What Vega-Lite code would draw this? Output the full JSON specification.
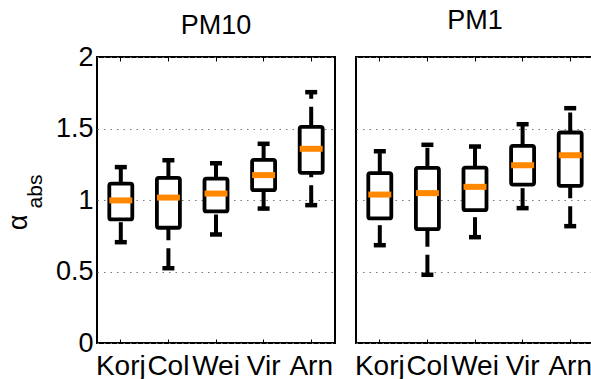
{
  "$schema": "https://vega.github.io/schema/vega-lite/v6.json",
  "padding": {"left": 3, "top": 6, "right": 0, "bottom": 0},
  "background": "white",
  "datasets": {
    "stats": [
      {"panel": "PM10", "site": "Korj", "lo": 0.705, "q1": 0.864, "med": 0.997, "q3": 1.115, "hi": 1.23},
      {"panel": "PM10", "site": "Col", "lo": 0.523, "q1": 0.806, "med": 1.017, "q3": 1.155, "hi": 1.278},
      {"panel": "PM10", "site": "Wei", "lo": 0.759, "q1": 0.92, "med": 1.045, "q3": 1.15, "hi": 1.257},
      {"panel": "PM10", "site": "Vir", "lo": 0.94, "q1": 1.069, "med": 1.174, "q3": 1.281, "hi": 1.393},
      {"panel": "PM10", "site": "Arn", "lo": 0.964, "q1": 1.19, "med": 1.358, "q3": 1.512, "hi": 1.754},
      {"panel": "PM1", "site": "Korj", "lo": 0.684, "q1": 0.871, "med": 1.038, "q3": 1.188, "hi": 1.341},
      {"panel": "PM1", "site": "Col", "lo": 0.477, "q1": 0.796, "med": 1.048, "q3": 1.225, "hi": 1.386},
      {"panel": "PM1", "site": "Wei", "lo": 0.74, "q1": 0.929, "med": 1.092, "q3": 1.227, "hi": 1.374},
      {"panel": "PM1", "site": "Vir", "lo": 0.943, "q1": 1.108, "med": 1.243, "q3": 1.379, "hi": 1.53},
      {"panel": "PM1", "site": "Arn", "lo": 0.817, "q1": 1.099, "med": 1.313, "q3": 1.472, "hi": 1.642}
    ]
  },
  "spacing": 17,
  "hconcat": [
    {
      "title": {"text": "PM10", "offset": 3.5},
      "width": 238,
      "height": 286,
      "data": {"name": "stats"},
      "transform": [{"filter": "datum.panel === 'PM10'"}],
      "resolve": {"axis": {"x": "independent", "y": "independent"}},
      "layer": [
        {
          "mark": {"type": "rule", "strokeWidth": 4, "strokeDash": [20, 8], "color": "black"},
          "encoding": {
            "x": {"field": "site", "type": "nominal", "sort": ["Korj", "Col", "Wei", "Vir", "Arn"], "scale": {"paddingInner": 0, "paddingOuter": 0},
                  "axis": {"orient": "bottom", "title": null, "domain": false, "tickSize": -4, "labelPadding": 13, "labelFontSize": 28, "labelAngle": 0, "labelOverlap": false, "labelBound": false}},
            "y": {"field": "lo", "type": "quantitative", "scale": {"domain": [0, 2], "nice": false, "zero": false},
                  "axis": {"orient": "left", "values": [0, 0.5, 1, 1.5, 2], "format": "~g", "domain": false, "ticks": false, "labelPadding": 4,
                           "grid": true, "gridColor": "#7a7a7a", "gridDash": [1.5, 5], "gridWidth": 1.2,
                           "title": "α", "titleFontSize": 27, "titleAngle": -90, "titleAlign": "center", "titleBaseline": "alphabetic", "titleX": -71, "titleY": 165}},
            "y2": {"field": "q1"}
          }
        },
        {
          "mark": {"type": "rule", "strokeWidth": 4, "strokeDash": [20, 8], "color": "black"},
          "encoding": {
            "x": {"field": "site", "type": "nominal", "sort": ["Korj", "Col", "Wei", "Vir", "Arn"],
                  "axis": {"orient": "top", "title": null, "domain": false, "labels": false, "tickSize": -4}},
            "y": {"field": "q3", "type": "quantitative",
                  "axis": {"orient": "left", "labels": false, "ticks": false, "domain": false, "grid": false,
                           "title": "abs", "titleFontSize": 21, "titleAngle": -90, "titleAlign": "center", "titleBaseline": "alphabetic", "titleX": -56, "titleY": 134}},
            "y2": {"field": "hi"}
          }
        },
        {
          "mark": {"type": "tick", "orient": "horizontal", "size": 12, "thickness": 4.5, "color": "black", "opacity": 1},
          "encoding": {
            "x": {"field": "site", "type": "nominal", "sort": ["Korj", "Col", "Wei", "Vir", "Arn"], "axis": null},
            "y": {"field": "lo", "type": "quantitative", "axis": null}
          }
        },
        {
          "mark": {"type": "tick", "orient": "horizontal", "size": 12, "thickness": 4.5, "color": "black", "opacity": 1},
          "encoding": {
            "x": {"field": "site", "type": "nominal", "sort": ["Korj", "Col", "Wei", "Vir", "Arn"], "axis": null},
            "y": {"field": "hi", "type": "quantitative", "axis": null}
          }
        },
        {
          "mark": {"type": "bar", "size": 23, "fill": "white", "stroke": "black", "strokeWidth": 3.8, "cornerRadius": 2},
          "encoding": {
            "x": {"field": "site", "type": "nominal", "sort": ["Korj", "Col", "Wei", "Vir", "Arn"], "axis": null},
            "y": {"field": "q1", "type": "quantitative", "axis": null},
            "y2": {"field": "q3"}
          }
        },
        {
          "mark": {"type": "tick", "orient": "horizontal", "size": 23, "thickness": 6, "color": "#ff8800", "opacity": 1},
          "encoding": {
            "x": {"field": "site", "type": "nominal", "sort": ["Korj", "Col", "Wei", "Vir", "Arn"], "axis": null},
            "y": {"field": "med", "type": "quantitative", "axis": null}
          }
        }
      ]
    },
    {
      "title": {"text": "PM1", "offset": 21.5},
      "width": 238,
      "height": 286,
      "data": {"name": "stats"},
      "transform": [{"filter": "datum.panel === 'PM1'"}],
      "resolve": {"axis": {"x": "independent", "y": "independent"}},
      "layer": [
        {
          "mark": {"type": "rule", "strokeWidth": 4, "strokeDash": [20, 8], "color": "black"},
          "encoding": {
            "x": {"field": "site", "type": "nominal", "sort": ["Korj", "Col", "Wei", "Vir", "Arn"], "scale": {"paddingInner": 0, "paddingOuter": 0},
                  "axis": {"orient": "bottom", "title": null, "domain": false, "tickSize": -4, "labelPadding": 13, "labelFontSize": 28, "labelAngle": 0, "labelOverlap": false, "labelBound": false}},
            "y": {"field": "lo", "type": "quantitative", "scale": {"domain": [0, 2], "nice": false, "zero": false},
                  "axis": {"orient": "left", "values": [0, 0.5, 1, 1.5, 2], "labels": false, "domain": false, "ticks": false,
                           "grid": true, "gridColor": "#7a7a7a", "gridDash": [1.5, 5], "gridWidth": 1.2, "title": null}},
            "y2": {"field": "q1"}
          }
        },
        {
          "mark": {"type": "rule", "strokeWidth": 4, "strokeDash": [20, 8], "color": "black"},
          "encoding": {
            "x": {"field": "site", "type": "nominal", "sort": ["Korj", "Col", "Wei", "Vir", "Arn"],
                  "axis": {"orient": "top", "title": null, "domain": false, "labels": false, "tickSize": -4}},
            "y": {"field": "q3", "type": "quantitative", "axis": null},
            "y2": {"field": "hi"}
          }
        },
        {
          "mark": {"type": "tick", "orient": "horizontal", "size": 12, "thickness": 4.5, "color": "black", "opacity": 1},
          "encoding": {
            "x": {"field": "site", "type": "nominal", "sort": ["Korj", "Col", "Wei", "Vir", "Arn"], "axis": null},
            "y": {"field": "lo", "type": "quantitative", "axis": null}
          }
        },
        {
          "mark": {"type": "tick", "orient": "horizontal", "size": 12, "thickness": 4.5, "color": "black", "opacity": 1},
          "encoding": {
            "x": {"field": "site", "type": "nominal", "sort": ["Korj", "Col", "Wei", "Vir", "Arn"], "axis": null},
            "y": {"field": "hi", "type": "quantitative", "axis": null}
          }
        },
        {
          "mark": {"type": "bar", "size": 23, "fill": "white", "stroke": "black", "strokeWidth": 3.8, "cornerRadius": 2},
          "encoding": {
            "x": {"field": "site", "type": "nominal", "sort": ["Korj", "Col", "Wei", "Vir", "Arn"], "axis": null},
            "y": {"field": "q1", "type": "quantitative", "axis": null},
            "y2": {"field": "q3"}
          }
        },
        {
          "mark": {"type": "tick", "orient": "horizontal", "size": 23, "thickness": 6, "color": "#ff8800", "opacity": 1},
          "encoding": {
            "x": {"field": "site", "type": "nominal", "sort": ["Korj", "Col", "Wei", "Vir", "Arn"], "axis": null},
            "y": {"field": "med", "type": "quantitative", "axis": null}
          }
        }
      ]
    }
  ],
  "config": {
    "font": "Liberation Sans",
    "view": {"stroke": "black", "strokeWidth": 2},
    "axis": {"labelFontSize": 27, "labelColor": "black", "tickColor": "black", "tickWidth": 1, "titleColor": "black", "titleFontWeight": "normal", "labelFont": "Liberation Sans", "titleFont": "Liberation Sans"},
    "title": {"fontSize": 27, "fontWeight": "normal", "color": "black", "baseline": "alphabetic", "frame": "group", "font": "Liberation Sans"}
  }
}
